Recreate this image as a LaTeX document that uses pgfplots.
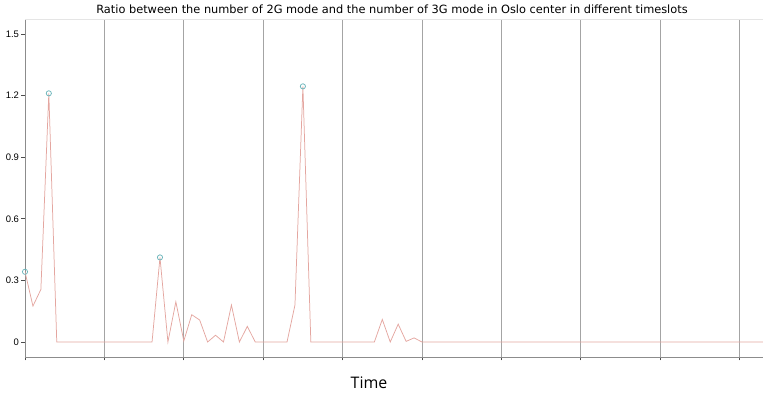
\documentclass[border=0pt]{standalone}
\usepackage{pgfplots}
\pgfplotsset{compat=1.18}
\usepackage{fontspec}
\setmainfont{Liberation Sans}
\newfontfamily\titlefont{DejaVu Sans}
\newfontfamily\labelfont{Open Sans}
\definecolor{linec}{HTML}{E4A6A0}
\definecolor{markc}{HTML}{6AB4BA}
\definecolor{gridc}{HTML}{A4A4A4}
\definecolor{axc}{HTML}{8C8C8C}
\begin{document}
\begin{tikzpicture}
\useasboundingbox (0,0) rectangle (763bp,394bp);
\begin{axis}[
  at={(25bp,37bp)}, anchor=south west,
  scale only axis, width=740bp, height=338bp,
  xmin=0, xmax=93.2, ymin=-0.073, ymax=1.573,
  axis x line*=bottom, axis y line*=left,
  axis line style={axc, line width=0.9pt, -},
  xtick={0,10,...,90}, xticklabels={},
  ytick={0,0.3,0.6,0.9,1.2,1.5},
  yticklabels={0,0.3,0.6,0.9,1.2,1.5},
  tick align=outside, major tick length=3.5bp,
  tick style={black!70, line width=0.9pt},
  yticklabel style={font=\fontsize{9.5}{10}\selectfont, xshift=1bp},
  xmajorgrids, major grid style={gridc, line width=0.9pt},
  clip=true,
]
\addplot[linec, line width=0.75pt] table {
x y
0 0.342
1 0.175
2 0.256
3 1.211
4 0
5 0
6 0
7 0
8 0
9 0
10 0
11 0
12 0
13 0
14 0
15 0
16 0
17 0.412
18 0
19 0.196
20 0.005
21 0.133
22 0.107
23 0
24 0.033
25 0
26 0.18
27 0
28 0.076
29 0
30 0
31 0
32 0
33 0
34 0.18
35 1.245
36 0
37 0
38 0
39 0
40 0
41 0
42 0
43 0
44 0
45 0.110
46 0
47 0.087
48 0.003
49 0.02
50 0
51 0
52 0
53 0
54 0
55 0
56 0
57 0
58 0
59 0
60 0
61 0
62 0
63 0
64 0
65 0
66 0
67 0
68 0
69 0
70 0
71 0
72 0
73 0
74 0
75 0
76 0
77 0
78 0
79 0
80 0
81 0
82 0
83 0
84 0
85 0
86 0
87 0
88 0
89 0
90 0
91 0
92 0
93 0
94 0
95 0
};
\addplot[only marks, mark=o, mark size=2.6bp, mark options={markc, line width=0.75pt, fill=markc!15}, clip=false] table {
x y
0 0.342
3 1.211
17 0.412
35 1.245
};
\draw[black!10, line width=0.8pt] (axis cs:0,1.573) -- (axis cs:93.2,1.573);
\end{axis}
\node[font=\titlefont\fontsize{11.4}{13}\selectfont, anchor=base] at (392bp,380bp) {Ratio between the number of 2G mode and the number of 3G mode in Oslo center in different timeslots};
\node[font=\labelfont\fontsize{16}{18}\selectfont, anchor=base] at (369bp,6bp) {Time};
\end{tikzpicture}
\end{document}
